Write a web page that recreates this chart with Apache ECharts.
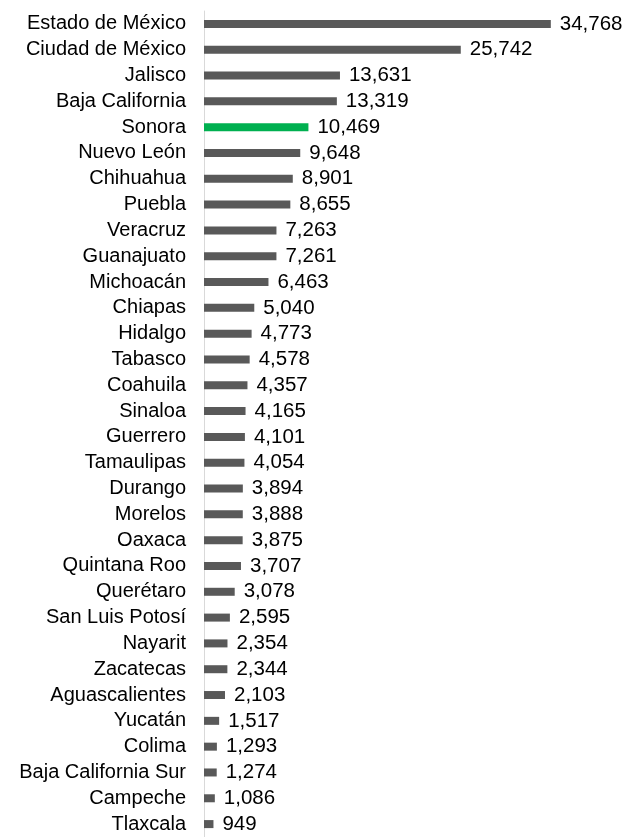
<!DOCTYPE html>
<html><head><meta charset="utf-8">
<script src="https://cdn.jsdelivr.net/npm/echarts@6/dist/echarts.min.js"></script>
<style>html,body{margin:0;padding:0;background:#fff}#c{width:627px;height:837px}</style>
</head><body><div id="c"></div>
<script>
const categories = ["Estado de México","Ciudad de México","Jalisco","Baja California","Sonora","Nuevo León","Chihuahua","Puebla","Veracruz","Guanajuato","Michoacán","Chiapas","Hidalgo","Tabasco","Coahuila","Sinaloa","Guerrero","Tamaulipas","Durango","Morelos","Oaxaca","Quintana Roo","Querétaro","San Luis Potosí","Nayarit","Zacatecas","Aguascalientes","Yucatán","Colima","Baja California Sur","Campeche","Tlaxcala"];
const values = [34768,25742,13631,13319,10469,9648,8901,8655,7263,7261,6463,5040,4773,4578,4357,4165,4101,4054,3894,3888,3875,3707,3078,2595,2354,2344,2103,1517,1293,1274,1086,949];
const highlight = "Sonora";

const chart = echarts.init(document.getElementById('c'), null, {renderer:'canvas'});
chart.setOption({
  animation:false,
  grid:{left:204, top:11, width:399, height:828, containLabel:false},
  xAxis:{type:'value', min:0, max:40000, show:false},
  yAxis:{type:'category', inverse:true, data:categories,
    axisLine:{show:true, lineStyle:{color:'#d9d9d9', width:1}},
    axisTick:{show:false},
    axisLabel:{interval:0, color:'#000', fontFamily:'Liberation Sans, Arial', fontSize:20, margin:18, padding:[0,0,2,0]}
  },
  series:[{type:'bar', barWidth:8,
    data: values.map((v,i)=>({value:v, itemStyle:{color: categories[i]===highlight ? '#00b050' : '#595959'}})),
    label:{show:true, position:'right', distance:9, color:'#000', fontFamily:'Liberation Sans, Arial', fontSize:20.5,
      formatter:p=>p.value.toLocaleString('en-US')}
  }]
});
</script></body></html>
